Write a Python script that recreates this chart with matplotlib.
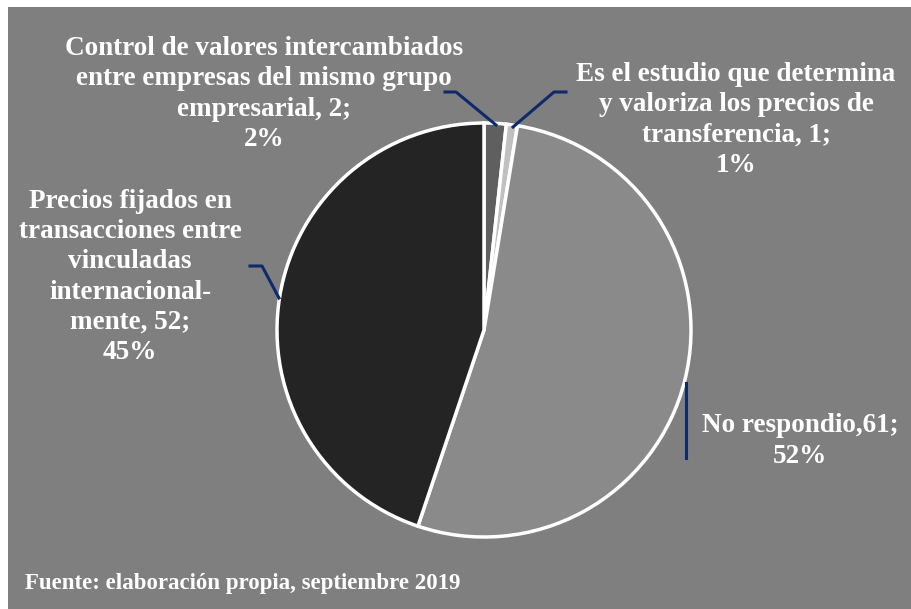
import matplotlib.pyplot as plt
from matplotlib.patches import Rectangle

# respuestas de la encuesta
labels = ["Control de valores intercambiados\nentre empresas del mismo grupo\nempresarial, 2;\n2%",
          "Es el estudio que determina\ny valoriza los precios de\ntransferencia, 1;\n1%",
          "No respondio,61;\n52%",
          "Precios fijados en\ntransacciones entre\nvinculadas\ninternacional-\nmente, 52;\n45%"]
values = [2, 1, 61, 52]
colors = ["#5f5f5f", "#c0c0c0", "#8a8a8a", "#242424"]

W, H = 911, 609
fig = plt.figure(figsize=(W / 100, H / 100), dpi=100)
fig.patch.set_facecolor("white")
ax = fig.add_axes([0, 0, 1, 1])

# fondo gris
ax.add_patch(Rectangle((8, 0), W - 8, H - 7, facecolor="#7f7f7f", edgecolor="none", zorder=0))

cx, cy, r = 484, H - 330, 207
ax.pie(values, colors=colors, startangle=90, counterclock=False,
       center=(cx, cy), radius=r, frame=True,
       wedgeprops=dict(edgecolor="white", linewidth=2.5))
ax.set_xlim(0, W)
ax.set_ylim(0, H)
ax.set_aspect("equal")
ax.axis("off")

font = dict(family="Liberation Serif", weight="bold", color="white", fontsize=19.5,
            ha="center", va="center", linespacing=1.27)
ax.text(264, H - 94, labels[0], **font)
ax.text(736, H - 120, labels[1], **font)
ax.text(800, H - 441, labels[2], **font)
ax.text(130, H - 277, labels[3], **font)

# lineas guia
navy = "#0f2a6a"
lw = 2.2
ax.plot([445, 456, 496], [H - 92, H - 92, H - 125], color=navy, lw=lw)
ax.plot([566, 554, 513], [H - 92, H - 92, H - 127], color=navy, lw=lw)
ax.plot([250, 262, 279], [H - 266, H - 266, H - 298], color=navy, lw=lw)
ax.plot([686, 686], [H - 383, H - 458], color=navy, lw=lw)

ax.text(25, H - 584, "Fuente: elaboración propia, septiembre 2019", family="Liberation Serif",
        weight="bold", color="white", fontsize=16.5, ha="left", va="center")

fig.savefig("out.png", dpi=100, facecolor=fig.get_facecolor())
